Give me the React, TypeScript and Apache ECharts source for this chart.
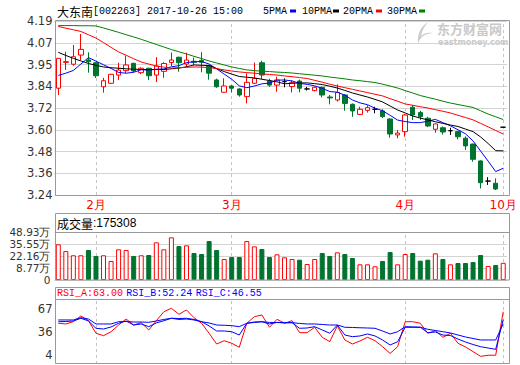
import React, { useEffect, useRef } from 'react';
import * as echarts from 'echarts';

const dates = [
  '2017-01-20', '2017-01-23', '2017-01-24', '2017-01-25', '2017-01-26',
  '2017-02-03', '2017-02-06', '2017-02-07', '2017-02-08', '2017-02-09', '2017-02-10',
  '2017-02-13', '2017-02-14', '2017-02-15', '2017-02-16', '2017-02-17',
  '2017-02-20', '2017-02-21', '2017-02-22', '2017-02-23', '2017-02-24',
  '2017-02-27', '2017-02-28',
  '2017-03-01', '2017-03-02', '2017-03-03',
  '2017-03-06', '2017-03-07', '2017-03-08', '2017-03-09', '2017-03-10',
  '2017-03-13', '2017-03-14', '2017-03-15', '2017-03-16', '2017-03-17',
  '2017-03-20', '2017-03-21', '2017-03-22', '2017-03-23', '2017-03-24',
  '2017-03-27', '2017-03-28', '2017-03-29', '2017-03-30', '2017-03-31',
  '2017-04-05', '2017-04-06', '2017-04-07',
  '2017-04-10', '2017-04-11', '2017-04-12', '2017-04-13', '2017-04-14',
  '2017-04-17', '2017-04-18', '2017-04-19', '2017-04-20', '2017-04-21',
  '2017-10-26',
];

const opens = [
  3.823, 3.964, 3.954, 4.004, 3.977, 3.962, 3.831, 3.850, 3.895, 3.919,
  3.959, 3.908, 3.932, 3.895, 3.915, 3.963, 3.992, 3.955, 3.970, 3.975,
  3.945, 3.868, 3.801, 3.835, 3.819, 3.777, 3.850, 3.962, 3.862, 3.840,
  3.859, 3.832, 3.862, 3.819, 3.810, 3.828, 3.775, 3.759, 3.786, 3.735,
  3.680, 3.702, 3.708, 3.699, 3.655, 3.568, 3.586, 3.719, 3.690, 3.659,
  3.599, 3.607, 3.591, 3.586, 3.550, 3.518, 3.426, 3.316, 3.304, 3.610,
];
const closes = [
  3.986, 3.968, 3.995, 4.035, 3.968, 3.891, 3.864, 3.899, 3.922, 3.950,
  3.917, 3.932, 3.891, 3.944, 3.958, 3.977, 3.962, 3.977, 3.965, 3.965,
  3.905, 3.831, 3.835, 3.823, 3.786, 3.855, 3.877, 3.895, 3.840, 3.868,
  3.859, 3.853, 3.823, 3.819, 3.828, 3.786, 3.770, 3.800, 3.740, 3.699,
  3.708, 3.717, 3.708, 3.668, 3.573, 3.578, 3.677, 3.677, 3.668, 3.617,
  3.628, 3.584, 3.591, 3.558, 3.508, 3.435, 3.307, 3.316, 3.273, 3.610,
];
const lows = [
  3.786, 3.923, 3.946, 3.977, 3.908, 3.879, 3.799, 3.848, 3.868, 3.904,
  3.910, 3.900, 3.868, 3.857, 3.880, 3.944, 3.913, 3.937, 3.950, 3.910,
  3.870, 3.825, 3.800, 3.800, 3.777, 3.740, 3.846, 3.873, 3.830, 3.804,
  3.828, 3.800, 3.800, 3.810, 3.806, 3.773, 3.735, 3.750, 3.700, 3.667,
  3.677, 3.690, 3.686, 3.660, 3.553, 3.550, 3.558, 3.650, 3.650, 3.611,
  3.580, 3.570, 3.568, 3.544, 3.486, 3.422, 3.276, 3.295, 3.267, 3.610,
];
const highs = [
  3.986, 4.022, 4.059, 4.119, 4.019, 3.965, 3.880, 3.901, 3.962, 4.001,
  3.962, 3.937, 3.935, 3.993, 3.965, 4.018, 3.995, 4.017, 3.990, 4.020,
  3.950, 3.875, 3.877, 3.840, 3.823, 3.904, 3.963, 3.973, 3.875, 3.886,
  3.877, 3.865, 3.870, 3.830, 3.832, 3.832, 3.786, 3.844, 3.790, 3.740,
  3.722, 3.730, 3.722, 3.708, 3.658, 3.595, 3.682, 3.731, 3.700, 3.667,
  3.630, 3.614, 3.607, 3.590, 3.560, 3.520, 3.430, 3.337, 3.331, 3.610,
];

const ma5 = [
  3.893, 3.905, 3.920, 3.955, 3.990, 3.971, 3.951, 3.931, 3.909, 3.905,
  3.910, 3.924, 3.922, 3.927, 3.928, 3.940, 3.946, 3.963, 3.967, 3.969,
  3.955, 3.929, 3.900, 3.872, 3.836, 3.826, 3.835, 3.847, 3.851, 3.867,
  3.868, 3.863, 3.849, 3.844, 3.836, 3.822, 3.805, 3.801, 3.785, 3.759,
  3.743, 3.733, 3.714, 3.700, 3.675, 3.649, 3.641, 3.635, 3.635, 3.643,
  3.653, 3.635, 3.618, 3.596, 3.574, 3.535, 3.480, 3.425, 3.368, 3.386,
];
const ma10 = [
  4.019, 4.002, 3.986, 3.972, 3.958, 3.948, 3.939, 3.935, 3.932, 3.929,
  3.927, 3.925, 3.925, 3.925, 3.925, 3.929, 3.933, 3.940, 3.950, 3.948,
  3.947, 3.930, 3.914, 3.900, 3.887, 3.883, 3.879, 3.872, 3.865, 3.858,
  3.847, 3.850, 3.852, 3.852, 3.848, 3.843, 3.834, 3.824, 3.811, 3.797,
  3.786, 3.775, 3.762, 3.748, 3.726, 3.704, 3.688, 3.671, 3.660, 3.650,
  3.640, 3.631, 3.622, 3.614, 3.600, 3.586, 3.557, 3.521, 3.482, 3.481,
];
const ma20 = [
  4.160, 4.151, 4.142, 4.133, 4.115, 4.097, 4.072, 4.046, 4.021, 4.003,
  3.984, 3.966, 3.955, 3.944, 3.938, 3.933, 3.935, 3.937, 3.939, 3.938,
  3.936, 3.930, 3.923, 3.917, 3.912, 3.908, 3.905, 3.901, 3.898, 3.895,
  3.890, 3.886, 3.881, 3.876, 3.866, 3.856, 3.845, 3.835, 3.826, 3.817,
  3.808, 3.799, 3.790, 3.781, 3.766, 3.752, 3.737, 3.730, 3.722, 3.715,
  3.706, 3.697, 3.688, 3.675, 3.663, 3.650, 3.631, 3.612, 3.592, 3.573,
];
const ma30 = [
  4.165, 4.165, 4.165, 4.164, 4.164, 4.163, 4.152, 4.140, 4.128, 4.115,
  4.103, 4.090, 4.076, 4.062, 4.048, 4.034, 4.022, 4.010, 3.997, 3.985,
  3.972, 3.961, 3.950, 3.939, 3.931, 3.923, 3.919, 3.916, 3.914, 3.911,
  3.909, 3.906, 3.902, 3.898, 3.894, 3.890, 3.884, 3.879, 3.874, 3.868,
  3.864, 3.859, 3.854, 3.845, 3.835, 3.824, 3.810, 3.797, 3.783, 3.773,
  3.763, 3.752, 3.742, 3.734, 3.726, 3.718, 3.700, 3.682, 3.667, 3.652,
];

// volume in 万 (10k lots)
const volumes = [
  36.4, 29.5, 25.2, 25.2, 30.6, 24.5, 25.2, 19.4, 31.3, 30.6,
  24.5, 25.2, 25.5, 38.4, 31.3, 43.5, 34.6, 35.3, 27.5, 26.5,
  39.7, 30.6, 21.4, 23.4, 23.4, 39.7, 34.3, 31.6, 23.4, 26.2,
  23.1, 21.4, 20.7, 16.3, 21.4, 27.5, 24.5, 28.2, 26.5, 22.4,
  16.0, 16.0, 14.0, 19.4, 28.5, 16.0, 26.5, 27.5, 19.7, 20.7,
  27.2, 21.4, 16.0, 17.3, 17.3, 18.3, 25.5, 14.3, 15.3, 17.5308,
];

const rsiA = [
  47.3, 46.3, 49.5, 57.3, 51.0, 33.6, 30.3, 35.7, 44.9, 53.1,
  44.9, 48.1, 38.1, 50.8, 63.1, 67.8, 59.6, 65.5, 54.9, 47.3,
  33.6, 18.9, 23.4, 19.9, 14.4, 47.3, 56.3, 58.6, 41.8, 52.7,
  47.3, 50.8, 34.4, 34.4, 41.8, 28.1, 22.1, 43.6, 24.4, 18.9,
  23.0, 28.1, 23.4, 15.2, 6.0, 15.2, 49.4, 49.4, 47.3, 33.6,
  37.1, 28.1, 33.6, 19.9, 14.8, 8.5, 2.0, 3.5, 3.5, 63.0,
];
const rsiB = [
  49.4, 49.7, 50.4, 54.1, 50.4, 40.4, 39.4, 42.2, 47.3, 50.4,
  44.9, 46.3, 42.6, 47.7, 50.8, 54.1, 52.5, 53.1, 51.8, 49.4,
  43.6, 36.7, 36.7, 35.7, 31.2, 47.3, 49.0, 49.4, 46.3, 48.4,
  47.7, 48.1, 40.4, 40.8, 42.6, 38.1, 33.6, 44.9, 31.2, 28.9,
  29.9, 32.6, 29.9, 24.4, 17.5, 22.0, 41.8, 41.8, 41.8, 34.4,
  35.3, 31.2, 30.5, 25.7, 21.6, 18.2, 15.2, 13.4, 11.6, 52.24,
];
const rsiC = [
  51.8, 51.8, 51.8, 54.9, 53.1, 46.3, 46.3, 46.3, 49.4, 49.7,
  49.0, 49.0, 48.6, 50.4, 52.5, 54.1, 53.8, 54.1, 52.5, 49.4,
  47.7, 44.9, 44.5, 44.0, 42.6, 47.3, 48.4, 49.4, 48.4, 48.4,
  48.4, 48.1, 47.0, 46.3, 46.3, 45.6, 44.9, 44.9, 41.8, 41.5,
  41.1, 40.8, 40.4, 36.7, 32.6, 35.7, 42.6, 42.2, 41.8, 39.0,
  37.4, 35.7, 34.0, 31.2, 28.5, 26.4, 24.4, 24.4, 24.4, 46.55,
];

const priceTicks = ['3.24', '3.36', '3.48', '3.60', '3.72', '3.84', '3.95', '4.07', '4.19'];
const volumeTicks = ['0', '8.77', '22.16', '35.55', '48.93'];
const rsiTicks = [4, 36, 67];

const maNames = ['5PMA', '10PMA', '20PMA', '30PMA'];
const maColors = ['#0000ff', '#000000', '#ff0000', '#008000'];
const stockName = '大东南';
const stockCode = '[002263] 2017-10-26 15:00';

const RED = '#ff0000';
const GREEN = '#00732f';
const GRID_LINE = '#d3d3d3';
const BORDER = '#999999';
const AXIS_FONT = 'DejaVu Sans';
const MONO = "'Liberation Mono', 'DejaVu Sans Mono', monospace";
const CJK = "'Noto Sans CJK SC', sans-serif";

echarts.graphic.registerShape(
  'emlogo',
  echarts.graphic.extendPath('M13,0 C7,4 2,10 3,22 C5,15 9,12 18,11 C12,10 8,12 6,14 C7,8 10,4 13,0 Z', {})
);

export default function App() {
  const ref = useRef<HTMLDivElement>(null);

  useEffect(() => {
    const chart = echarts.init(ref.current!, null, { renderer: 'svg' });

    const monthStarts: number[] = [];
    dates.forEach((d, i) => {
      if (i > 0 && d.slice(5, 7) !== dates[i - 1].slice(5, 7)) monthStarts.push(i);
    });
    const monthSet = new Set(monthStarts);
    const monthLines = monthStarts.map((i) => ({ xAxis: dates[i] }));

    const markLineCfg = {
      silent: true,
      symbol: ['none', 'none'],
      label: { show: false },
      emphasis: { disabled: true },
      lineStyle: { type: [3, 3], color: '#c4c4c4', width: 1 },
      z: 1,
      data: monthLines,
    };

    const candleData = dates.map((_, i) => {
      const v = [opens[i], closes[i], lows[i], highs[i]];
      if (opens[i] === closes[i]) {
        return {
          value: v,
          itemStyle: { color: '#000', color0: '#000', borderColor: '#000', borderColor0: '#000' },
        };
      }
      return v;
    });

    const volumeData = volumes.map((v, i) => {
      const up = closes[i] >= opens[i];
      return {
        value: v,
        itemStyle: up
          ? { color: '#ffffff', borderColor: RED, borderWidth: 1 }
          : { color: GREEN, borderColor: GREEN, borderWidth: 1 },
      };
    });

    const gridLeft = 54.5;
    const gridWidth = 452.5;

    const xAxes = [0, 1, 2].map((g) => ({
      type: 'category',
      gridIndex: g,
      data: dates,
      boundaryGap: true,
      axisLine: { show: false },
      axisTick: { show: false },
      splitLine: { show: false },
      axisLabel:
        g === 0
          ? {
              show: true,
              interval: (i: number) => monthSet.has(i),
              formatter: (v: string) => `${parseInt(v.slice(5, 7), 10)}月`,
              color: RED,
              fontSize: 12,
              fontFamily: AXIS_FONT,
              margin: 4,
            }
          : { show: false },
    }));

    const lastVol = Math.round(volumes[volumes.length - 1] * 10000);
    const last = (a: number[]) => a[a.length - 1].toFixed(2);

    const legendTextX = [263, 302, 343, 387];
    const legendRectX = [290, 333, 376, 419];

    const graphics: any[] = [
      // title
      {
        type: 'text',
        x: 57,
        y: 11,
        silent: true,
        style: {
          text: `{c|${stockName}}{a|${stockCode}}`,
          verticalAlign: 'middle',
          textVerticalAlign: 'middle',
          rich: {
            c: { fontFamily: CJK, fontSize: 12, fill: '#000' },
            a: { fontFamily: MONO, fontSize: 10, fill: '#000' },
          },
        },
      },
      // watermark
      {
        type: 'emlogo',
        x: 415,
        y: 22,
        silent: true,
        style: { fill: '#cccccc' },
      },
      {
        type: 'text',
        x: 437,
        y: 28,
        silent: true,
        style: {
          text: '东方财富网',
          fontFamily: CJK,
          fontSize: 13,
          fontWeight: 'bold',
          fill: '#c8c8c8',
          verticalAlign: 'middle',
          textVerticalAlign: 'middle',
        },
      },
      {
        type: 'text',
        x: 438,
        y: 42,
        silent: true,
        style: {
          text: 'eastmoney.com',
          fontFamily: 'DejaVu Sans',
          fontSize: 8,
          fontWeight: 'bold',
          fill: '#c8c8c8',
          verticalAlign: 'middle',
          textVerticalAlign: 'middle',
        },
      },
      // price border
      {
        type: 'rect',
        z: 100,
        silent: true,
        shape: { x: 55.5, y: 20.5, width: 454, height: 175 },
        style: { fill: 'none', stroke: BORDER, lineWidth: 1 },
      },
      // volume panel
      {
        type: 'rect',
        z: 100,
        silent: true,
        shape: { x: 55.5, y: 213.5, width: 454, height: 66.5 },
        style: { fill: 'none', stroke: BORDER, lineWidth: 1 },
      },
      {
        type: 'line',
        z: 100,
        silent: true,
        shape: { x1: 55.5, y1: 232.5, x2: 509.5, y2: 232.5 },
        style: { stroke: BORDER, lineWidth: 1 },
      },
      {
        type: 'text',
        x: 57,
        y: 223,
        silent: true,
        style: {
          text: `{c|成交量}{a|:${lastVol}}`,
          verticalAlign: 'middle',
          textVerticalAlign: 'middle',
          rich: {
            c: { fontFamily: CJK, fontSize: 12, fill: '#000' },
            a: { fontFamily: "'Liberation Sans', Arial, sans-serif", fontSize: 12, fill: '#000' },
          },
        },
      },
      // RSI panel
      {
        type: 'rect',
        z: 100,
        silent: true,
        shape: { x: 55.5, y: 287.5, width: 454, height: 76 },
        style: { fill: 'none', stroke: BORDER, lineWidth: 1 },
      },
      {
        type: 'line',
        z: 100,
        silent: true,
        shape: { x1: 55.5, y1: 299.5, x2: 509.5, y2: 299.5 },
        style: { stroke: BORDER, lineWidth: 1 },
      },
      {
        type: 'text',
        x: 57,
        y: 293.5,
        silent: true,
        style: {
          text: `{r|RSI_A:${last(rsiA)}} {b|RSI_B:${last(rsiB)}} {b|RSI_C:${last(rsiC)}}`,
          verticalAlign: 'middle',
          textVerticalAlign: 'middle',
          rich: {
            r: { fontFamily: MONO, fontSize: 10, fill: RED },
            b: { fontFamily: MONO, fontSize: 10, fill: '#0000ff' },
          },
        },
      },
    ];

    maNames.forEach((name, k) => {
      graphics.push({
        type: 'text',
        x: legendTextX[k],
        y: 11,
        silent: true,
        style: {
          text: name,
          fontFamily: MONO,
          fontSize: 10,
          fill: '#000',
          verticalAlign: 'middle',
          textVerticalAlign: 'middle',
        },
      });
      graphics.push({
        type: 'rect',
        silent: true,
        shape: { x: legendRectX[k], y: 9.5, width: 6, height: 3 },
        style: { fill: maColors[k] },
      });
    });

    const maSeries = [ma5, ma10, ma20, ma30].map((d, k) => ({
      name: maNames[k],
      type: 'line',
      xAxisIndex: 0,
      yAxisIndex: 0,
      data: d,
      symbol: 'none',
      showSymbol: false,
      smooth: false,
      lineStyle: { color: maColors[k], width: 1 },
      itemStyle: { color: maColors[k] },
      z: 3,
      silent: true,
    }));

    const rsiSeries = [
      { name: 'RSI_A', data: rsiA, color: RED },
      { name: 'RSI_B', data: rsiB, color: '#0000ff' },
      { name: 'RSI_C', data: rsiC, color: '#0000ff' },
    ].map((s, k) => ({
      name: s.name,
      type: 'line',
      xAxisIndex: 2,
      yAxisIndex: 4,
      data: s.data,
      symbol: 'none',
      showSymbol: false,
      lineStyle: { color: s.color, width: 1 },
      itemStyle: { color: s.color },
      silent: true,
      z: 3,
      ...(k === 0 ? { markLine: markLineCfg } : {}),
    }));

    const labelStyle = { color: '#333', fontSize: 11.5, fontFamily: AXIS_FONT };

    const option: any = {
      animation: false,
      backgroundColor: '#ffffff',
      grid: [
        { left: gridLeft, width: gridWidth, top: 21, height: 174, show: false },
        { left: gridLeft, width: gridWidth, top: 232, height: 48, show: false },
        { left: gridLeft, width: gridWidth, top: 299, height: 65, show: false },
      ],
      xAxis: xAxes,
      yAxis: [
        { type: 'value', gridIndex: 0, min: 3.24, max: 4.19, show: false, scale: true },
        {
          type: 'value',
          gridIndex: 0,
          position: 'left',
          min: 0,
          max: priceTicks.length - 1,
          interval: 1,
          axisLine: { show: false },
          axisTick: { show: false },
          axisLabel: { ...labelStyle, margin: 2, formatter: (v: number) => priceTicks[Math.round(v)] },
          splitLine: { show: true, lineStyle: { color: GRID_LINE, width: 1 } },
        },
        { type: 'value', gridIndex: 1, min: 0, max: 48.93, show: false },
        {
          type: 'value',
          gridIndex: 1,
          position: 'left',
          min: 0,
          max: volumeTicks.length - 1,
          interval: 1,
          axisLine: { show: false },
          axisTick: { show: false },
          axisLabel: {
            ...labelStyle,
            fontSize: 10.5,
            margin: 4,
            formatter: (v: number) => {
              const i = Math.round(v);
              return i === 0 ? volumeTicks[0] : `${volumeTicks[i]}万`;
            },
          },
          splitLine: { show: true, lineStyle: { color: GRID_LINE, width: 1 } },
        },
        {
          type: 'value',
          gridIndex: 2,
          position: 'left',
          min: -8.5,
          max: 80.5,
          axisLine: { show: false },
          axisTick: { show: false, customValues: rsiTicks },
          axisLabel: { ...labelStyle, margin: 2, customValues: rsiTicks },
          splitLine: { show: false },
        },
      ],
      graphic: graphics,
      series: [
        {
          name: 'K',
          type: 'candlestick',
          xAxisIndex: 0,
          yAxisIndex: 0,
          data: candleData,
          barWidth: 5,
          silent: true,
          z: 2,
          itemStyle: {
            color: '#ffffff',
            color0: GREEN,
            borderColor: RED,
            borderColor0: GREEN,
            borderWidth: 1,
          },
          markLine: markLineCfg,
        },
        ...maSeries,
        {
          name: 'VOL',
          type: 'bar',
          xAxisIndex: 1,
          yAxisIndex: 2,
          data: volumeData,
          barWidth: 5,
          silent: true,
          markLine: markLineCfg,
        },
        ...rsiSeries,
      ],
    };

    chart.setOption(option);
    return () => chart.dispose();
  }, []);

  return (
    <div
      ref={ref}
      style={{ position: 'absolute', left: 0, top: 0, width: 520, height: 365, background: '#ffffff' }}
    />
  );
}
